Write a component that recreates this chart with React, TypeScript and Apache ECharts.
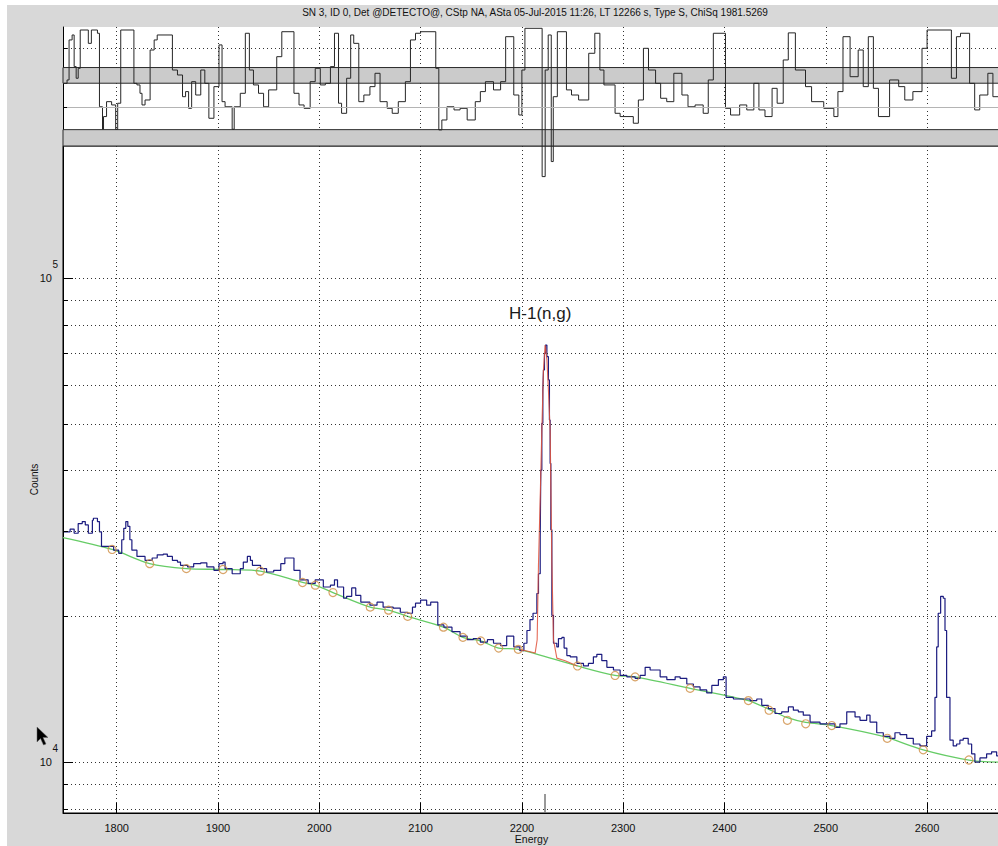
import React, { useEffect, useRef } from "react";
import * as echarts from "echarts";

const TITLE =
  "SN 3, ID 0, Det @DETECTO@, CStp NA, ASta 05-Jul-2015 11:26, LT 12266 s, Type S, ChiSq 1981.5269";
const PEAK_LABEL = "H-1(n,g)";
const X_NAME = "Energy";
const Y_NAME = "Counts";

// measured spectrum (energy keV, counts) — step histogram
const spectrum: [number, number][] = [
  [1748, 29900], [1754, 30300], [1758, 29700], [1762, 31100], [1766, 31400], [1769, 30900],
  [1772, 29700], [1776, 31600], [1777, 31900], [1781, 31400], [1783, 29900], [1785, 27900],
  [1797, 27400], [1802, 27000], [1805, 28800], [1807, 30400], [1809, 31400], [1811, 30700],
  [1813, 28800], [1815, 27400], [1820, 26600], [1828, 26100], [1835, 26400], [1840, 26800],
  [1846, 26900], [1850, 26600], [1855, 26100], [1860, 25900], [1863, 25500], [1870, 25300],
  [1876, 25700], [1883, 25800], [1889, 25300], [1896, 24900], [1901, 25700], [1905, 25900],
  [1907, 25100], [1914, 24500], [1922, 25100], [1925, 25900], [1929, 26600], [1932, 26100],
  [1934, 25500], [1942, 25100], [1948, 24700], [1955, 24900], [1962, 25700], [1966, 26400],
  [1975, 24900], [1981, 23800], [1989, 23400], [1996, 23800], [2004, 23000], [2011, 23200],
  [2015, 23800], [2018, 23000], [2024, 21800], [2027, 22000], [2032, 22900], [2036, 22100],
  [2041, 21400], [2050, 21100], [2057, 21400], [2063, 20900], [2073, 20800], [2080, 20400],
  [2087, 20300], [2092, 20900], [2095, 21300], [2100, 21600], [2106, 21100], [2110, 21400],
  [2117, 19200], [2123, 19000], [2131, 18600], [2139, 18200], [2146, 17900], [2152, 18000],
  [2159, 17700], [2166, 17900], [2172, 17600], [2179, 17400], [2185, 18200], [2192, 17300],
  [2198, 17000], [2202, 17600], [2205, 18700], [2208, 19700], [2211, 20300], [2214.8, 22300],
  [2216.4, 24500], [2218.1, 29200], [2218.7, 40100], [2219.7, 50100], [2220.7, 58700],
  [2221.3, 64600], [2222.3, 69900], [2223.3, 72700], [2224.7, 68800], [2226.2, 61600],
  [2227.2, 50900], [2227.9, 41400], [2228.6, 30200], [2229.6, 20100], [2231.2, 17600],
  [2234.5, 17300], [2236.1, 18000], [2239.5, 18100], [2241.7, 17200], [2244.4, 16600],
  [2247.7, 16500], [2254.3, 16000], [2260.8, 15800], [2265.7, 16000], [2270.6, 16500],
  [2274.0, 16700], [2278.9, 16200], [2283.9, 15700], [2290.4, 15500], [2297.0, 15100],
  [2303.6, 15000], [2311.8, 14900], [2316.7, 15100], [2321.7, 15700], [2326.6, 15500],
  [2336.5, 15000], [2343.1, 14800], [2351.3, 15000], [2356.2, 14900], [2362.8, 14500],
  [2369.3, 14300], [2375.9, 14100], [2382.5, 13900], [2387.5, 14400], [2394.0, 14800],
  [2398.9, 15000], [2401.6, 13600], [2408.8, 13500], [2425.3, 13400], [2431.9, 13500],
  [2436.8, 13100], [2443.3, 12900], [2449.9, 12600], [2456.5, 12700], [2463.1, 13000],
  [2468.0, 12800], [2472.9, 12700], [2477.8, 12500], [2484.5, 12100], [2494.3, 12000],
  [2509.1, 11800], [2514.0, 12000], [2520.7, 12700], [2528.9, 12400], [2533.8, 12200],
  [2540.4, 12500], [2543.7, 12100], [2550.3, 11500], [2556.8, 11300], [2563.4, 11200],
  [2568.3, 11500], [2573.3, 11400], [2579.9, 11200], [2586.4, 10900], [2593.0, 10800],
  [2599.6, 11300], [2604.5, 11600], [2607.8, 13600], [2609.5, 17300], [2611.0, 20300],
  [2613.4, 22000], [2616.0, 21800], [2617.7, 18700], [2619.3, 13600], [2622.6, 11100],
  [2625.8, 10800], [2629.2, 10900], [2632.4, 11100], [2635.7, 11200], [2640.6, 10900],
  [2644.0, 10400], [2647.2, 10000], [2652.2, 10200], [2658.8, 10400], [2663.7, 10500],
  [2668.7, 10300], [2672, 10300],
];

// peak fit (red)
const peakFit: [number, number][] = [
  [2196.8, 17100], [2208.2, 16900], [2213.1, 16800], [2215.1, 17900], [2216.4, 25700],
  [2218.1, 35300], [2219.7, 48500], [2221.3, 64600], [2223.0, 72700], [2224.7, 67700],
  [2226.2, 58700], [2227.9, 48500], [2229.6, 25800], [2231.2, 17900], [2234.5, 16400],
  [2242.7, 16200], [2254.9, 15800],
];

// continuum (green)
const continuum: [number, number][] = [
  [1747, 29100], [1795.5, 27500], [1832.6, 25700], [1868.8, 25100], [1905.0, 25000],
  [1941.8, 24800], [1983.5, 23500], [1996.1, 23200], [2013.5, 22400], [2050.3, 20900],
  [2068.4, 20600], [2087.3, 20000], [2122.6, 19000], [2141.8, 18100], [2159.4, 17800],
  [2177.1, 17200], [2196.4, 17100], [2254.9, 15800], [2292.0, 15100], [2311.8, 15000],
  [2366.1, 14200], [2423.6, 13400], [2444.0, 12850], [2462.1, 12350], [2480.2, 12080],
  [2505.9, 11900], [2556.8, 11300], [2596.2, 10600], [2641.3, 10100], [2672, 10000],
];

// continuum nodes (orange circles)
const nodes: [number, number][] = [
  [1795.5, 27500], [1832.6, 25700], [1868.8, 25100], [1905.0, 25000], [1941.8, 24800],
  [1983.5, 23500], [1996.1, 23200], [2013.5, 22400], [2050.3, 20900], [2068.4, 20600],
  [2087.3, 20000], [2122.6, 19000], [2141.8, 18100], [2159.4, 17800], [2177.1, 17200],
  [2196.4, 17100], [2254.9, 15800], [2292.0, 15100], [2311.8, 15000], [2366.1, 14200],
  [2423.6, 13400], [2444.0, 12800], [2462.1, 12200], [2480.2, 12000], [2505.9, 11900],
  [2560.7, 11200], [2596.2, 10600], [2641.3, 10100],
];

// residuals (top panel)
const residuals: [number, number][] = [
  [1748, 1.79], [1751, 2.05], [1753, 5.11], [1756, 5.49], [1758, 3.07], [1760, 2.18],
  [1762, 2.94], [1764, 5.87], [1772, 4.85], [1775, 5.87], [1781, 5.62], [1783, 0.0],
  [1786, -1.72], [1787, -0.75], [1790, 0.39], [1795, 0.14], [1799, -1.72], [1801, 0.27],
  [1804, 5.87], [1817, 1.79], [1820, 1.67], [1823, 1.03], [1825, 0.14], [1828, 0.52],
  [1833, 4.34], [1837, 5.11], [1840, 5.49], [1855, 2.81], [1860, 2.43], [1865, 0.77],
  [1868, 1.16], [1871, -0.12], [1874, 1.92], [1878, 0.9], [1883, 2.81], [1887, 1.79],
  [1891, -0.88], [1896, 1.54], [1901, 4.73], [1904, 0.39], [1907, 0.0], [1914, -1.72],
  [1916, 0.0], [1922, 1.03], [1927, 5.62], [1931, 2.81], [1935, 1.67], [1940, 1.03],
  [1945, 0.0], [1950, 1.29], [1958, 3.83], [1963, 5.74], [1975, 1.03], [1980, 0.14],
  [1985, -0.12], [1991, 1.92], [1996, 2.94], [2001, 1.67], [2006, 1.79], [2011, 3.07],
  [2015, 5.62], [2019, 0.27], [2022, -0.5], [2027, 2.18], [2031, 5.49], [2034, 4.85],
  [2039, 0.39], [2044, 0.9], [2050, 1.54], [2055, 2.56], [2060, 0.39], [2067, -0.12],
  [2072, -0.5], [2078, 0.39], [2085, 1.92], [2090, 5.11], [2095, 5.62], [2100, 5.74],
  [2115, 2.94], [2118, -1.77], [2121, -1.01], [2126, 0.0], [2133, -0.24], [2139, -0.12],
  [2146, -1.01], [2154, 0.39], [2159, 1.16], [2164, 1.92], [2172, 1.29], [2179, 1.92],
  [2184, 5.36], [2192, 0.9], [2197, -0.63], [2200, 2.81], [2203, 6.0], [2220, -5.34],
  [2223, 2.81], [2226, 5.49], [2229, -4.19], [2231, 0.77], [2235, 5.74], [2244, 1.29],
  [2249, 0.9], [2256, 0.52], [2266, 4.09], [2272, 5.62], [2277, 2.81], [2281, 1.67],
  [2292, -0.5], [2297, -0.75], [2310, -1.26], [2315, 0.52], [2320, 4.47], [2325, 2.81],
  [2332, 1.79], [2337, 0.65], [2343, 0.39], [2350, 2.56], [2358, 0.9], [2364, 0.0],
  [2371, 0.14], [2379, -0.5], [2384, 2.05], [2389, 5.62], [2401, -0.12], [2406, -0.63],
  [2415, 0.14], [2422, -0.24], [2429, 1.79], [2434, -0.24], [2440, -0.75], [2447, 1.41],
  [2452, 0.27], [2458, 3.58], [2463, 5.65], [2470, 2.81], [2480, 1.54], [2486, 0.39],
  [2498, -0.12], [2508, -0.75], [2512, 1.16], [2517, 5.36], [2524, 2.3], [2532, 4.34],
  [2537, 1.54], [2542, 5.36], [2547, 1.41], [2552, -0.75], [2563, 2.05], [2572, 1.54],
  [2578, 0.52], [2586, 1.16], [2595, 4.47], [2600, 5.87], [2624, 2.18], [2629, 5.36],
  [2633, 5.62], [2642, 1.79], [2647, -0.24], [2652, 0.9], [2660, 2.56], [2665, 0.77],
  [2672, 0.77],
];

const X_MIN = 1747;
const X_MAX = 2672;
const Y_MIN = 7850;
const Y_MAX = 187400;
const R_MIN = -3;
const R_MAX = 6.1;

const countGrid = [8000, 9000, 10000, 20000, 30000, 40000, 50000, 60000, 70000, 80000, 90000, 100000];
const decadeTicks = [10000, 100000];
const residualBands: [number, number][] = [[1.8, 3], [-3, -1.75]];
const residualGrid = [4.47];
const peakEnergy = 2223;
const peakApex: [number, number] = [2223.0, 72700];
const peakMarkerTop = 8590;

const FONT = '"Liberation Sans", Arial, Helvetica, sans-serif';

function buildOption(): any {
  const dotted = { color: "#333", type: [1, 3], width: 1 };
  const xCommon = {
    type: "value",
    min: X_MIN,
    max: X_MAX,
    splitNumber: 9,
    minInterval: 100,
    maxInterval: 100,
  };
  const tickSegs = countGrid.map((v) => {
    const len = decadeTicks.includes(v) ? 9.9 : 4.9;
    return [
      { coord: [X_MIN, v], lineStyle: { color: "#000", type: "solid", width: 1 } },
      { coord: [X_MIN + len, v] },
    ];
  });
  return {
    animation: false,
    textStyle: { fontFamily: FONT },
    graphic: [
      {
        type: "text",
        x: 535,
        y: 12,
        style: {
          text: TITLE,
          fontSize: 10,
          fontFamily: FONT,
          fill: "#111",
          align: "center",
          verticalAlign: "middle",
        },
      },
      {
        type: "polygon",
        shape: {
          points: [[37, 727], [37, 742], [40.5, 738.5], [43.5, 745], [46, 744], [43, 737.5], [48, 737.5]],
        },
        style: { fill: "#000", stroke: "#666", lineWidth: 0.5 },
        z: 100,
      },
    ],
    grid: [
      {
        left: 63, right: -2, top: 27, height: 119, show: true, backgroundColor: "#fff", borderWidth: 0,
        containLabel: false, outerBoundsMode: "none",
      },
      {
        left: 63, right: -2, top: 146, bottom: 33, show: true, backgroundColor: "#fff", borderColor: "#000", borderWidth: 1,
        containLabel: false, outerBoundsMode: "none",
      },
    ],
    xAxis: [
      {
        ...xCommon,
        gridIndex: 0,
        axisLine: { show: false },
        axisTick: { show: false },
        axisLabel: { show: false },
        splitLine: { show: true, lineStyle: dotted },
      },
      {
        ...xCommon,
        gridIndex: 1,
        axisLine: { show: true, onZero: false, lineStyle: { color: "#000", width: 1 } },
        axisTick: { show: true, inside: true, length: 10, lineStyle: { color: "#000", width: 1 } },
        axisLabel: {
          show: true,
          margin: 9,
          color: "#111",
          fontSize: 11,
          fontFamily: FONT,
          showMinLabel: false,
          showMaxLabel: false,
          formatter: (v: number) => (Math.abs(v % 100) < 1e-6 ? String(v) : ""),
        },
        splitLine: { show: true, lineStyle: dotted },
        name: X_NAME,
        nameLocation: "middle",
        nameGap: 20,
        nameMoveOverlap: false,
        nameTextStyle: { fontSize: 10.5, color: "#111", fontFamily: FONT, lineHeight: 12 },
      },
    ],
    yAxis: [
      {
        type: "value",
        gridIndex: 0,
        min: R_MIN,
        max: R_MAX,
        axisLine: { show: true, onZero: false, lineStyle: { color: "#000", width: 1 } },
        axisTick: { show: false },
        axisLabel: { show: false },
        splitLine: { show: false },
      },
      {
        type: "log",
        logBase: 10,
        gridIndex: 1,
        min: Y_MIN,
        max: Y_MAX,
        axisLine: { show: true, onZero: false, lineStyle: { color: "#000", width: 1 } },
        axisTick: { show: false },
        splitLine: { show: false },
        axisLabel: {
          show: true,
          margin: 5,
          padding: [0, 0, 14, 0],
          color: "#111",
          formatter: (v: number) => {
            const l = Math.log10(v);
            const r = Math.round(l);
            if (Math.abs(l - r) > 1e-6) return "";
            return `{e|${r}}\n{b|10}{s|}`;
          },
          rich: {
            e: { fontSize: 10, lineHeight: 14, align: "right", fontFamily: FONT, color: "#111" },
            b: { fontSize: 11, lineHeight: 13, fontFamily: FONT, color: "#111" },
            s: { width: 6, lineHeight: 13 },
          },
        },
        name: Y_NAME,
        nameLocation: "middle",
        nameGap: 24,
        nameMoveOverlap: false,
        nameTextStyle: { fontSize: 10, color: "#111", fontFamily: FONT },
      },
    ],
    series: [
      {
        name: "residual",
        type: "line",
        xAxisIndex: 0,
        yAxisIndex: 0,
        data: residuals,
        step: "end",
        symbol: "none",
        clip: false,
        z: 3,
        lineStyle: { color: "#262626", width: 1 },
        markArea: {
          silent: true,
          itemStyle: { color: "#cbcbcb", borderColor: "#2a2a2a", borderWidth: 1 },
          data: residualBands.map(([a, b]) => [{ yAxis: a }, { yAxis: b }]),
        },
        markLine: {
          silent: true,
          symbol: ["none", "none"],
          label: { show: false },
          data: [
            { yAxis: 0, lineStyle: { color: "#b4b4b4", type: "solid", width: 1 } },
            ...residualGrid.map((v) => ({ yAxis: v, lineStyle: dotted })),
            [
              { coord: [X_MIN, 0], lineStyle: { color: "#000", type: "solid", width: 1 } },
              { coord: [X_MIN + 4, 0] },
            ],
            ...residualGrid.map((v) => [
              { coord: [X_MIN, v], lineStyle: { color: "#000", type: "solid", width: 1 } },
              { coord: [X_MIN + 4, v] },
            ]),
          ],
        },
      },
      {
        name: "grid",
        type: "line",
        xAxisIndex: 1,
        yAxisIndex: 1,
        data: [[X_MIN, 10000]],
        symbol: "none",
        lineStyle: { opacity: 0 },
        z: 1,
        silent: true,
        markLine: {
          silent: true,
          symbol: ["none", "none"],
          label: { show: false },
          lineStyle: dotted,
          data: [...countGrid.map((v) => ({ yAxis: v })), ...tickSegs],
        },
      },
      {
        name: "continuum",
        type: "line",
        xAxisIndex: 1,
        yAxisIndex: 1,
        data: continuum,
        smooth: 0.3,
        symbol: "none",
        z: 2,
        lineStyle: { color: "#66cc66", width: 1.3 },
      },
      {
        name: "spectrum",
        type: "line",
        xAxisIndex: 1,
        yAxisIndex: 1,
        data: spectrum,
        step: "end",
        symbol: "none",
        z: 3,
        lineStyle: { color: "#1c1c80", width: 1.2 },
        markLine: {
          silent: true,
          symbol: ["none", "none"],
          label: { show: false },
          lineStyle: { color: "#777", type: "solid", width: 1.5 },
          data: [[{ coord: [peakEnergy, Y_MIN] }, { coord: [peakEnergy, peakMarkerTop] }]],
        },
      },
      {
        name: "fit",
        type: "line",
        xAxisIndex: 1,
        yAxisIndex: 1,
        data: peakFit,
        symbol: "none",
        z: 4,
        lineStyle: { color: "#e0503a", width: 1.1, opacity: 0.85 },
        markPoint: {
          silent: true,
          data: [
            {
              coord: peakApex,
              symbol: "circle",
              symbolSize: 1,
              itemStyle: { color: "rgba(0,0,0,0)" },
              label: {
                show: true,
                position: "inside",
                offset: [-5, -32],
                formatter: PEAK_LABEL,
                fontSize: 17,
                color: "#1a1a1a",
                fontFamily: FONT,
              },
            },
          ],
        },
      },
      {
        name: "nodes",
        type: "scatter",
        xAxisIndex: 1,
        yAxisIndex: 1,
        data: nodes,
        symbol: "circle",
        symbolSize: 8,
        z: 5,
        itemStyle: { color: "rgba(0,0,0,0)", borderColor: "#cf8f45", borderWidth: 1.2 },
      },
    ],
  };
}

export default function App() {
  const ref = useRef<HTMLDivElement>(null);
  useEffect(() => {
    if (!ref.current) return;
    const chart = echarts.init(ref.current, null, { renderer: "svg" });
    chart.setOption(buildOption());
    return () => chart.dispose();
  }, []);
  return (
    <div style={{ position: "fixed", left: 0, top: 0, width: 998, height: 846, background: "#fff", overflow: "hidden" }}>
      <div style={{ position: "absolute", left: 7, top: 5, right: 0, bottom: 0, background: "#d8d8d8" }} />
      <div ref={ref} style={{ position: "absolute", left: 0, top: 0, width: 998, height: 846 }} />
    </div>
  );
}
